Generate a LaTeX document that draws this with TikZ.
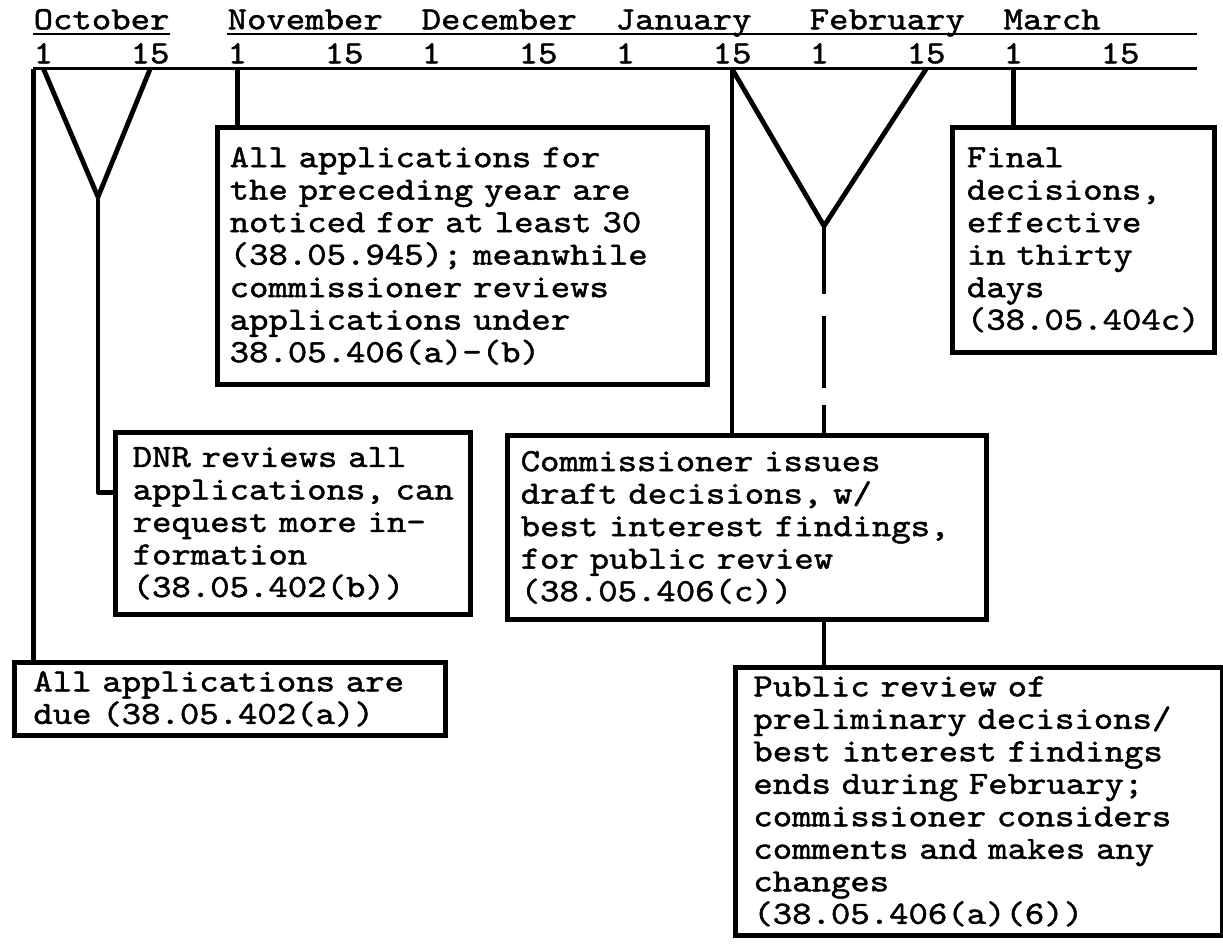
\documentclass[tikz,border=0pt]{standalone}
\usepackage{fontspec}
\newfontfamily\typewriter{lmmono10-regular}[Extension=.otf,FakeStretch=1.14,FakeBold=1.4]

\begin{document}
\begin{tikzpicture}[x=0.5pt,y=-0.5pt,
  typed/.style={font=\typewriter\fontsize{16.2pt}{16.25pt}\selectfont, inner sep=0pt},
  month/.style={typed, anchor=base west, text depth=0pt, inner ysep=2.1pt},
  day/.style={typed, anchor=base west, inner ysep=2.5pt},
  stage/.style={typed, draw, line width=2.4pt, anchor=north west, align=left},
  link/.style={line width=2.4pt, line join=round},
  rule/.style={line width=1.3pt}]
  \fill[white] (0,0) rectangle (1223,945);
  \useasboundingbox (0,0) rectangle (1223,945);

  % timeline: months and days
  \foreach \m [count=\i from 0] in {October,November,December,January,February,March}
    \node[month] (\m) at ({33.3+194*\i},29.3) {\m};
  \foreach \i in {0,...,5}{
    \node[day] (first\i) at ({33.3+194*\i},63.3) {1};
    \node[day] (mid\i) at ({130.3+194*\i},63.3) {15};
  }
  \coordinate (lineEnd) at (1197,0);
  \draw[rule] (October.south west) -- (October.south east);
  \draw[rule] (November.south west) -- (November.south west -| lineEnd);
  \draw[rule] (first0.south west) -- (first0.south west -| lineEnd);

  % stages
  \node[stage, inner xsep=6.15pt, text width=232.7pt, minimum height=128.5pt] (notice) at (215,125)
    {All applications for\\the preceding year are\\noticed for at least 30\\(38.05.945); meanwhile\\commissioner reviews\\applications under\\38.05.406(a)-(b)};
  \node[stage, inner xsep=7.25pt, text width=116.5pt, minimum height=112.5pt] (final) at (950,125)
    {Final\\decisions,\\effective\\in thirty\\days\\(38.05.404c)};
  \node[stage, inner xsep=8.65pt, text width=160.2pt, minimum height=91pt] (dnr) at (113,430)
    {DNR reviews all\\applications,~can\\request more in-\\formation\\(38.05.402(b))};
  \node[stage, inner xsep=6.65pt, text width=226.2pt, minimum height=92pt] (draft) at (505,433)
    {Commissioner issues\\draft decisions, w/\\best interest findings,\\for public review\\(38.05.406(c))};
  \node[stage, inner xsep=9.5pt, text width=196.5pt, minimum height=36.5pt] (due) at (12,660)
    {All applications are\\due (38.05.402(a))};
  \node[stage, inner xsep=9pt, text width=225.5pt, minimum height=134pt] (review) at (733,665)
    {Public review of\\preliminary decisions/\\best interest findings\\ends during February;\\commissioner considers\\comments and makes any\\changes\\(38.05.406(a)(6))};

  % connectors
  \coordinate (octFork) at (98,197);
  \coordinate (janFork) at (824,226);
  \draw[link] (first0.south west) -- (first0.south west |- due.north);
  \draw[link] (first0.south) -- (octFork) -- (mid0.south);
  \draw[link] (octFork) |- ([yshift=15.5pt]dnr.west);
  \draw[link] (first1.south) -- (first1.south |- notice.north);
  \draw[link] (first5.south) -- (first5.south |- final.north);
  \draw[link] (mid3.south) -- (janFork) -- (mid4.south);
  \draw[link] (mid3.south) -- (mid3.south |- draft.north);
  \draw[link, dash pattern=on 34pt off 11pt on 36pt off 8.5pt on 20pt] (janFork) -- (janFork |- draft.north);
  \draw[link] (janFork |- draft.south) -- (janFork |- review.north);
\end{tikzpicture}
\end{document}
